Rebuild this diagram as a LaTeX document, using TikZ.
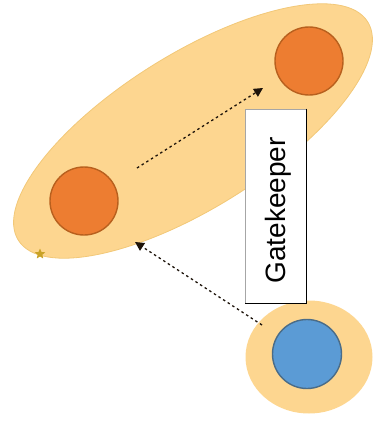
\documentclass[tikz,border=0pt]{standalone}
\usepackage{fontspec}
\setmainfont{Liberation Sans}
\usetikzlibrary{arrows.meta,shapes.geometric}
\definecolor{blob}{HTML}{FDD690}
\definecolor{blobedge}{HTML}{F2C878}
\definecolor{orfill}{HTML}{ED7D31}
\definecolor{oredge}{HTML}{B8601E}
\definecolor{blfill}{HTML}{5B9BD5}
\definecolor{bledge}{HTML}{4A6C88}
\definecolor{starc}{HTML}{C9A227}
\tikzset{
  grpshape/.style={ellipse, fill=blob, draw=blobedge, line width=0.8pt, minimum width=412pt, minimum height=154pt, inner sep=0pt},
  orcirc/.style={circle, fill=orfill, draw=oredge, line width=1.4pt, minimum size=68pt, inner sep=0pt},
  blcirc/.style={circle, fill=blfill, draw=bledge, line width=1.4pt, minimum size=69pt, inner sep=0pt},
  ring/.style={ellipse, fill=blob, draw=none, minimum width=127pt, minimum height=113pt, inner sep=0pt},
  gkbox/.style={rectangle, fill=white, draw=gray!70, line width=1pt, minimum width=61pt, minimum height=194pt, inner sep=0pt},
  dotarrow/.style={draw=black!85!brown, line width=1.3pt, dash pattern=on 2.5pt off 3pt, -{Triangle[length=9pt,width=9pt]}},
  anchorstar/.style={star, star points=5, star point ratio=2.2, fill=starc, draw=none, minimum size=11pt, inner sep=0pt}
}
\begin{document}
\begin{tikzpicture}[x=1pt,y=-1pt]
\useasboundingbox (0,0) rectangle (381,421);
\node[grpshape, rotate=32] (grp) at (193,131) {};
\node[anchorstar] (st) at (40,254) {};
\node[orcirc] (o1) at (84,201) {};
\node[orcirc] (o2) at (309,61) {};
\node[ring] (rg) at (309,357) {};
\node[blcirc] (b1) at (307,354) {};
\node[gkbox] (gk) at (275.5,206) {};
\draw[black, line width=1.6pt] (gk.north east) -- (gk.south east) -- (gk.south west);
\node[rotate=90, anchor=base, inner sep=0pt, font=\fontsize{28}{30}\selectfont] (gt) at (285,210.5) {Gatekeeper};
\coordinate (a1s) at (137,168);
\coordinate (a1e) at (263,88);
\coordinate (a2s) at (262,325);
\coordinate (a2e) at (135,242);
\draw[dotarrow] (a1s) -- (a1e);
\draw[dotarrow] (a2s) -- (a2e);
\end{tikzpicture}
\end{document}
